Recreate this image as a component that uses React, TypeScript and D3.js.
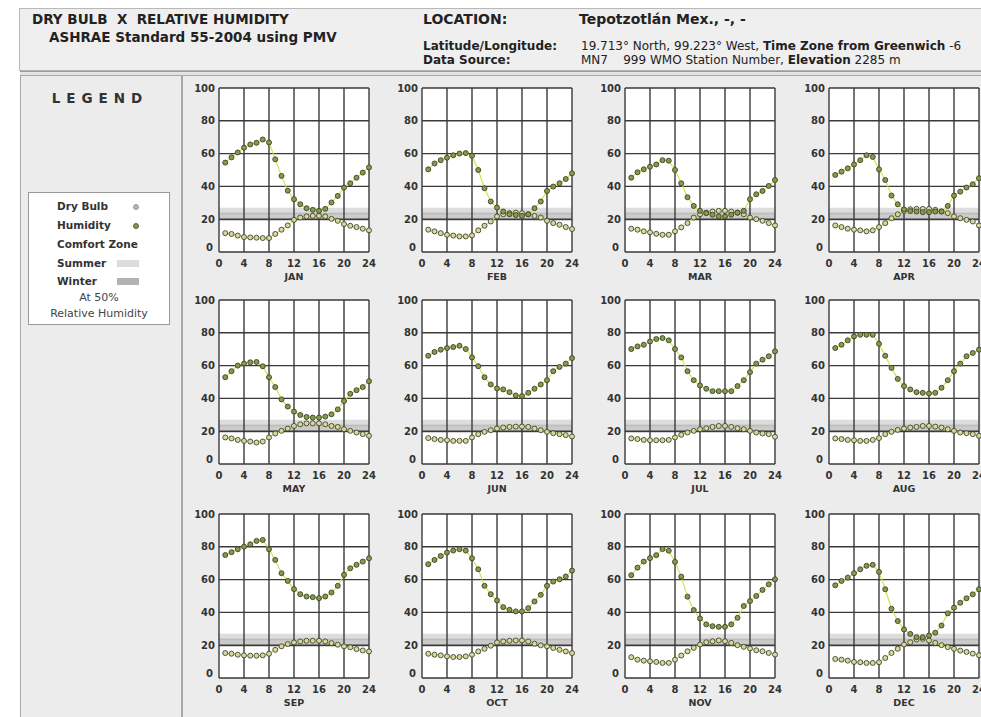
import React from "react";
import * as d3 from "d3";

const MONTHS = ["JAN", "FEB", "MAR", "APR", "MAY", "JUN", "JUL", "AUG", "SEP", "OCT", "NOV", "DEC"];
const HOURS = [1, 2, 3, 4, 5, 6, 7, 8, 9, 10, 11, 12, 13, 14, 15, 16, 17, 18, 19, 20, 21, 22, 23, 24];
const X_TICKS = [0, 4, 8, 12, 16, 20, 24];
const Y_TICKS = [0, 20, 40, 60, 80, 100];
const SUMMER_ZONE = [23, 27];
const WINTER_ZONE = [19, 24];

const RH_JAN = [54.5, 57.7, 60.7, 63.6, 65.6, 66.6, 68.6, 66.8, 56.5, 46.4, 37.4, 32.2, 29.1, 26.7, 25.7, 25.1, 26.3, 30.2, 34.2, 39.3, 41.9, 45.3, 48.4, 51.6];
const DB_JAN = [11.5, 11, 10, 9.1, 8.9, 8.7, 8.5, 8.5, 11, 13.6, 16.2, 19.6, 21, 21.7, 22, 22, 21.7, 20.2, 19, 17, 16, 15.2, 14.2, 13.2];
const RH_FEB = [50.4, 54, 56, 57.5, 59, 60, 60.3, 58.7, 50, 38.9, 30.8, 27.1, 24.7, 23, 22.5, 22, 23, 26.7, 30.8, 37.2, 39.9, 41.9, 44.5, 48];
const DB_FEB = [13.6, 12.6, 11.5, 10.5, 10, 9.5, 9.5, 10.1, 13.2, 16, 18.6, 21.7, 23, 23.7, 24, 23.7, 23, 22, 21, 19, 17.6, 16.6, 15.2, 14];
const RH_MAR = [45.3, 48.6, 50.4, 52, 53.4, 56, 55.7, 50, 41.9, 33.4, 28.1, 25.1, 23.7, 22.7, 21.7, 21.7, 22.7, 24, 25.1, 32.2, 35.2, 37.2, 40.3, 43.9];
const DB_MAR = [14.2, 13.6, 12.6, 12, 11.1, 10.5, 10.5, 12.6, 15, 17.6, 21, 23, 24, 24.7, 25.1, 25.1, 24.7, 24, 23, 21, 20, 19, 17.6, 16.2];
const RH_APR = [47, 49, 51, 53.4, 56, 59, 58, 50.4, 43.9, 34.4, 29.1, 26, 25, 24.7, 24.3, 24.3, 24.7, 24.7, 28.1, 34.4, 36.8, 39.3, 41.3, 45];
const DB_APR = [16.2, 15.2, 14.2, 13.6, 13.2, 12.6, 13.2, 15.2, 17.6, 20.6, 23, 25.1, 26.1, 26.3, 26.3, 26.3, 25.7, 24.7, 23.7, 21.7, 20.6, 19.6, 18.6, 16.2];
const RH_MAY = [52.9, 56.6, 60, 61.2, 62, 62.2, 59.6, 52.9, 46.9, 39.4, 35, 31.9, 29.9, 28.7, 28.3, 28.3, 28.9, 30.3, 33.3, 38.4, 42.8, 45, 46.9, 50.5];
const DB_MAY = [16.2, 15.6, 14.7, 14.1, 13.7, 13.1, 13.7, 16.2, 18.6, 20.2, 21.6, 23.2, 24.2, 24.8, 24.8, 24.8, 24.2, 23.2, 22.6, 21.2, 20.2, 19.2, 18.2, 17.2];
const RH_JUN = [66, 68.3, 69.7, 70.7, 71.3, 72.1, 70.1, 65, 59.6, 52.9, 48.5, 46.1, 45.5, 43.8, 41.8, 41.4, 43.4, 45.9, 48.5, 51.1, 56.6, 59.2, 61.2, 64.6];
const DB_JUN = [15.8, 15.2, 14.7, 14.5, 14.1, 14.1, 14.1, 16.2, 18.2, 19.6, 20.6, 21.6, 22.2, 22.6, 22.8, 22.8, 22.6, 21.6, 20.6, 19.6, 18.8, 18.2, 17.6, 16.8];
const RH_JUL = [70.1, 71.7, 72.7, 74.7, 76.2, 76.8, 75.4, 70.1, 65, 56.6, 51.1, 47.9, 45.9, 44.4, 44.4, 44.4, 44.4, 47.5, 51.1, 56, 61.2, 63.6, 65.7, 68.7];
const DB_JUL = [15.6, 15.2, 14.7, 14.5, 14.5, 14.5, 14.7, 16.2, 17.8, 19.2, 20.2, 21.2, 21.8, 22.6, 23.2, 23.2, 22.6, 21.8, 21.2, 20.2, 19.2, 18.6, 18.2, 16.6];
const RH_AUG = [70.7, 72.7, 75.4, 77.8, 78.8, 78.8, 78.8, 73.3, 66, 58.6, 51.9, 47.5, 45.5, 43.8, 43.4, 43, 43.4, 46.5, 51.1, 56.6, 61.2, 65.7, 67.7, 69.7];
const DB_AUG = [15.6, 15.2, 14.7, 14.5, 14.1, 14.1, 14.7, 15.8, 18.2, 19.6, 20.8, 21.6, 22.2, 22.6, 23.2, 23.2, 22.8, 22.2, 21.2, 20.2, 19.2, 18.8, 18.2, 17.2];
const RH_SEP = [75, 76.7, 78.5, 80.1, 81.5, 83.6, 84.2, 78.5, 72, 63.9, 59.2, 54.2, 51.1, 49.7, 49.3, 48.7, 49.7, 52.1, 56.2, 62.9, 66.9, 69, 71, 73];
const DB_SEP = [15.2, 14.8, 14.2, 13.8, 13.6, 13.6, 13.8, 14.8, 17.2, 19.3, 20.7, 21.7, 22.3, 22.7, 22.7, 22.7, 22.3, 21.3, 20.3, 19.3, 18.7, 17.6, 16.8, 16.2];
const RH_OCT = [69.4, 72, 74.4, 76.5, 77.7, 78.5, 77.7, 73, 66.3, 56.2, 51.1, 47.3, 43.2, 41.6, 40.6, 40.6, 42.6, 46.7, 50.7, 56.2, 58.8, 60.2, 61.9, 65.5];
const DB_OCT = [14.8, 14.2, 13.8, 13.2, 12.8, 12.8, 13.2, 14.2, 16.2, 17.8, 19.7, 21.7, 22.3, 22.7, 22.9, 22.9, 22.3, 20.9, 19.9, 19.3, 18.3, 17.2, 16.2, 15.2];
const RH_NOV = [62.7, 67.3, 71, 73.1, 74.9, 78.6, 77.6, 70.8, 61.8, 49.6, 41.4, 36.3, 32.7, 31.6, 31.2, 31.2, 32.7, 36.7, 43.9, 46.9, 50, 53.7, 57.1, 60.2];
const DB_NOV = [12.7, 11.2, 10.6, 10.2, 9.8, 9.2, 9.2, 11.2, 13.7, 16.3, 18.4, 20.4, 21.8, 22.4, 22.9, 22.4, 21.4, 20, 19, 18, 16.9, 16.3, 15.3, 14.3];
const RH_DEC = [56.5, 59.2, 61.2, 63.9, 66.3, 68.4, 69, 64.7, 54.1, 42.2, 34.7, 29.6, 26.9, 24.9, 24.9, 25.9, 27.6, 32, 39.4, 42.9, 45.9, 48.6, 51, 54.1];
const DB_DEC = [11.6, 11.2, 10.6, 9.8, 9.6, 9.2, 9.2, 9.6, 12.2, 15.3, 17.8, 20.4, 21.8, 23.5, 23.9, 22.9, 21.4, 20, 18.8, 17.8, 16.7, 15.9, 14.9, 13.9];

const HUMIDITY = [RH_JAN, RH_FEB, RH_MAR, RH_APR, RH_MAY, RH_JUN, RH_JUL, RH_AUG, RH_SEP, RH_OCT, RH_NOV, RH_DEC];
const DRY_BULB = [DB_JAN, DB_FEB, DB_MAR, DB_APR, DB_MAY, DB_JUN, DB_JUL, DB_AUG, DB_SEP, DB_OCT, DB_NOV, DB_DEC];

const FONT = "'DejaVu Sans', sans-serif";
const PW = 150;
const PH = 164;
const COL_X = [219, 422, 625, 829];
const ROW_Y = [88, 300, 514];

const RH_FILL = "#86994f";
const RH_STROKE = "#3a4524";
const DB_FILL = "#d6d8a2";
const DB_STROKE = "#44442e";
const LINE_COL = "#dcdc45";

function Panel({ idx }: { idx: number }) {
  const col = idx % 4;
  const row = Math.floor(idx / 4);
  const x0 = COL_X[col];
  const y0 = ROW_Y[row];
  const x = d3.scaleLinear().domain([0, 24]).range([0, PW]);
  const y = d3.scaleLinear().domain([0, 100]).range([PH, 0]);
  const rh = HUMIDITY[idx];
  const db = DRY_BULB[idx];
  const line = d3
    .line<number>()
    .x((_, i) => x(HOURS[i]))
    .y((v) => y(v));
  return (
    <g transform={`translate(${x0},${y0})`}>
      <rect x={0} y={0} width={PW} height={PH} fill="#ffffff" />
      <rect x={0} y={y(SUMMER_ZONE[1])} width={PW} height={y(SUMMER_ZONE[0]) - y(SUMMER_ZONE[1])} fill="#d4d4d4" opacity={0.8} />
      <rect x={0} y={y(WINTER_ZONE[1])} width={PW} height={y(WINTER_ZONE[0]) - y(WINTER_ZONE[1])} fill="#a9a9a9" opacity={0.6} />
      {X_TICKS.map((t) => (
        <line key={"vx" + t} x1={x(t)} x2={x(t)} y1={0} y2={PH} stroke="#3a3a3a" strokeWidth={1.4} />
      ))}
      {Y_TICKS.map((t) => (
        <line key={"hy" + t} x1={0} x2={PW} y1={y(t)} y2={y(t)} stroke="#3a3a3a" strokeWidth={1.4} />
      ))}
      <path d={line(db) || ""} fill="none" stroke={LINE_COL} strokeWidth={1.1} />
      <path d={line(rh) || ""} fill="none" stroke={LINE_COL} strokeWidth={1.1} />
      {db.map((v, i) => (
        <circle key={"d" + i} cx={x(HOURS[i])} cy={y(v)} r={2.5} fill={DB_FILL} stroke={DB_STROKE} strokeWidth={0.9} />
      ))}
      {rh.map((v, i) => (
        <circle key={"h" + i} cx={x(HOURS[i])} cy={y(v)} r={2.5} fill={RH_FILL} stroke={RH_STROKE} strokeWidth={0.9} />
      ))}
      {Y_TICKS.map((t) => (
        <text
          key={"yl" + t}
          x={t === 0 ? -6 : -4}
          y={t === 0 ? y(t) - 1 : y(t) + 3.5}
          textAnchor="end"
          fontFamily={FONT}
          fontWeight="bold"
          fontSize={10}
          fill="#333"
        >
          {t}
        </text>
      ))}
      {X_TICKS.map((t) => (
        <text key={"xl" + t} x={x(t)} y={PH + 15} textAnchor="middle" fontFamily={FONT} fontWeight="bold" fontSize={10} fill="#333">
          {t}
        </text>
      ))}
      <text x={PW / 2} y={PH + 28} textAnchor="middle" fontFamily={FONT} fontWeight="bold" fontSize={9.5} fill="#333">
        {MONTHS[idx]}
      </text>
    </g>
  );
}

export default function App() {
  return (
    <svg width={981} height={717} style={{ position: "absolute", left: 0, top: 0, background: "#fff" }}>
      <rect x={0} y={0} width={981} height={717} fill="#ffffff" />
      {/* header */}
      <rect x={19.5} y={8.5} width={975} height={62} fill="#efefef" stroke="#b8b8b8" />
      <line x1={20} x2={981} y1={71.5} y2={71.5} stroke="#9a9a9a" strokeWidth={1.5} />
      <line x1={20} x2={981} y1={74} y2={74} stroke="#c4c4c4" strokeWidth={1} />
      <text x={32} y={24} fontFamily={FONT} fontWeight="bold" fontSize={13.5} fill="#222" style={{ whiteSpace: "pre" }}>
        {"DRY BULB  X  RELATIVE HUMIDITY"}
      </text>
      <text x={49} y={42} fontFamily={FONT} fontWeight="bold" fontSize={13.5} fill="#222">
        ASHRAE Standard 55-2004 using PMV
      </text>
      <text x={423} y={24} fontFamily={FONT} fontWeight="bold" fontSize={14} fill="#222">
        LOCATION:
      </text>
      <text x={579} y={24} fontFamily={FONT} fontWeight="bold" fontSize={14} fill="#222">
        Tepotzotlán Mex., -, -
      </text>
      <text x={423} y={50} fontFamily={FONT} fontWeight="bold" fontSize={12} fill="#222">
        Latitude/Longitude:
      </text>
      <text x={423} y={64} fontFamily={FONT} fontWeight="bold" fontSize={12} fill="#222">
        Data Source:
      </text>
      <text x={581} y={50} fontFamily={FONT} fontSize={12} fill="#222" style={{ whiteSpace: "pre" }}>
        19.713° North, 99.223° West, <tspan fontWeight="bold">Time Zone from Greenwich</tspan> -6
      </text>
      <text x={581} y={64} fontFamily={FONT} fontSize={12} fill="#222" style={{ whiteSpace: "pre" }}>
        {"MN7    999 WMO Station Number, "}<tspan fontWeight="bold">Elevation</tspan> 2285 m
      </text>
      {/* legend panel */}
      <rect x={20.5} y={75.5} width={161} height={650} fill="#ececec" stroke="#a8a8a8" />
      <text x={100} y={103} textAnchor="middle" fontFamily={FONT} fontWeight="bold" fontSize={13.5} letterSpacing={6} fill="#333">
        LEGEND
      </text>
      <rect x={28.5} y={192.5} width={141} height={132} fill="#ffffff" stroke="#9a9a9a" />
      <g fontFamily={FONT} fontSize={10.5} fill="#333">
        <text x={57} y={210} fontWeight="bold">Dry Bulb</text>
        <circle cx={136} cy={207} r={2.5} fill="#b9bba8" stroke="#8a8a7a" strokeWidth={0.8} />
        <text x={57} y={229} fontWeight="bold">Humidity</text>
        <circle cx={136} cy={226} r={2.5} fill={RH_FILL} stroke={RH_STROKE} strokeWidth={0.8} />
        <text x={57} y={248} fontWeight="bold">Comfort Zone</text>
        <text x={57} y={267} fontWeight="bold">Summer</text>
        <rect x={117} y={260} width={22} height={7} fill="#dcdcdc" />
        <text x={57} y={285} fontWeight="bold">Winter</text>
        <rect x={117} y={278} width={22} height={7} fill="#b2b2b2" />
        <text x={99} y={301} textAnchor="middle" fontSize={11} fill="#444">At 50%</text>
        <text x={99} y={317} textAnchor="middle" fontSize={11} fill="#444">Relative Humidity</text>
      </g>
      {/* charts panel */}
      <rect x={182.5} y={75.5} width={810} height={650} fill="#ececec" stroke="#a8a8a8" />
      {MONTHS.map((m, i) => (
        <Panel key={m} idx={i} />
      ))}
    </svg>
  );
}
